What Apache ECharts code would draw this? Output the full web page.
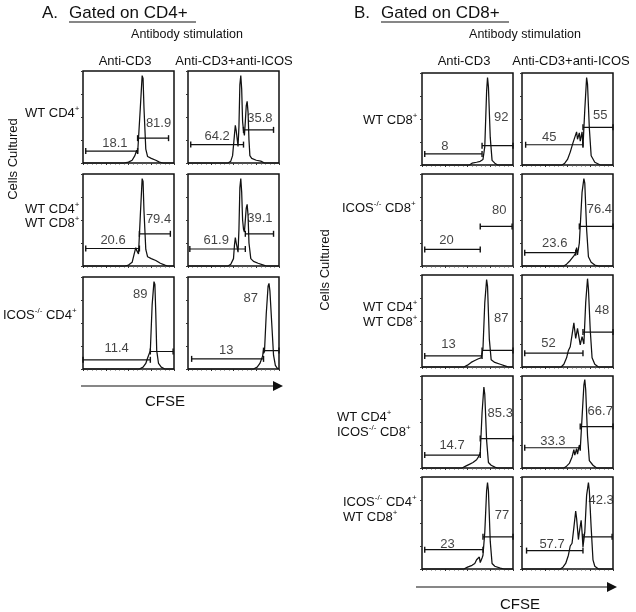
<!DOCTYPE html>
<html>
<head>
<meta charset="utf-8">
<script src="https://cdn.jsdelivr.net/npm/echarts@6/dist/echarts.min.js"></script>
<style>
html, body { margin: 0; padding: 0; background: #fff; }
#main { width: 636px; height: 612px; }
</style>
</head>
<body>
<div id="main"></div>
<script>
// CFSE histograms: x = channel (0-100, left to right), y = % of peak
// gates: [from, to, level]   pct: [text, x, y]

// A. gated on CD4+
var a1_cd3 = [[0,0],[45,0],[50,1],[54,3],[57,8],[59,14],[60,10],[61,12],[63,60],[65,95],[66,92],[67,60],[69,15],[71,7],[75,5],[80,3],[84,1],[88,0],[100,0]];
var a1_cd3_gates = [[3,60,13],[60,94,27]];
var a1_cd3_pct = [['18.1',35,21],['81.9',83,43]];

var a1_icos = [[0,0],[44,0],[47,2],[49,8],[51,30],[52,41],[53,35],[55,18],[56,40],[57,85],[58,95],[59,80],[60,45],[61,35],[62,30],[63,45],[64,62],[65,67],[66,55],[67,25],[68,8],[70,5],[75,3],[80,2],[84,0],[100,0]];
var a1_icos_gates = [[3,61,20],[61,94,36]];
var a1_icos_pct = [['64.2',32,29],['35.8',79,48]];

var a2_cd3 = [[0,0],[46,0],[50,1],[54,4],[56,12],[58,20],[59,17],[61,13],[63,55],[65,95],[66,92],[67,60],[69,18],[71,10],[75,8],[80,6],[85,3],[90,1],[93,0],[100,0]];
var a2_cd3_gates = [[3,62,19],[62,96,35]];
var a2_cd3_pct = [['20.6',33,27.5],['79.4',83,51]];

var a2_icos = [[0,0],[44,0],[47,2],[50,8],[51,22],[52,31],[53,25],[55,15],[56,40],[57,85],[58,95],[59,80],[60,50],[61,40],[62,37],[63,50],[64,63],[65,67],[66,55],[67,25],[69,8],[72,5],[77,3],[83,1],[86,0],[100,0]];
var a2_icos_gates = [[2,63,18.5],[63,94,35]];
var a2_icos_pct = [['61.9',31,27.5],['39.1',79,52]];

var a3_cd3 = [[0,0],[62,0],[66,2],[69,6],[71,12],[72,10],[74,20],[76,70],[78,95],[79,92],[80,60],[81,20],[83,6],[86,2],[90,0],[100,0]];
var a3_cd3_gates = [[0,74,10],[74,99,19]];
var a3_cd3_pct = [['11.4',37,22.5],['89',63,81.5]];

var a3_icos = [[0,0],[72,0],[76,2],[79,6],[82,14],[83,21],[84,18],[86,60],[88,90],[89,93],[90,85],[92,50],[94,15],[96,4],[98,1],[100,0]];
var a3_icos_gates = [[4,83,11],[83,100,20]];
var a3_icos_pct = [['13',42,20],['87',69,77]];

// B. gated on CD8+
var b1_cd3 = [[0,0],[52,0],[55,2],[60,3],[64,4],[67,6],[69,20],[71,80],[72,95],[73,85],[75,30],[77,5],[80,2],[83,0],[100,0]];
var b1_cd3_gates = [[3,66,12],[66,100,21]];
var b1_cd3_pct = [['8',25,20],['92',87,52]];

var b1_icos = [[0,0],[44,0],[47,2],[50,6],[53,14],[56,24],[58,30],[60,36],[61,28],[63,35],[64,26],[66,36],[67,20],[69,60],[71,95],[72,88],[74,40],[76,10],[80,3],[86,0],[100,0]];
var b1_icos_gates = [[4,67,22],[67,100,41]];
var b1_icos_pct = [['45',30,30],['55',86,54]];

var b2_cd3 = [];  // no cells
var b2_cd3_gates = [[3,64,18],[64,99,43]];
var b2_cd3_pct = [['20',27,28],['80',85,60]];

var b2_icos = [[0,0],[46,0],[49,2],[53,6],[57,11],[59,14],[60,20],[61,12],[63,25],[66,80],[68,95],[69,90],[71,40],[73,10],[76,4],[80,1],[84,0],[100,0]];
var b2_icos_gates = [[3,59,14.5],[63,100,43]];
var b2_icos_pct = [['23.6',36,25],['76.4',85,62]];

var b3_cd3 = [[0,0],[46,0],[50,2],[54,5],[58,7],[62,9],[65,10],[67,20],[69,70],[71,95],[72,88],[74,30],[76,8],[80,5],[86,3],[92,1],[95,0],[100,0]];
var b3_cd3_gates = [[3,66,12],[66,100,18]];
var b3_cd3_pct = [['13',29,25],['87',87,53]];

var b3_icos = [[0,0],[43,0],[46,3],[49,10],[51,18],[53,22],[55,35],[57,48],[59,31],[61,42],[63,30],[64,24],[66,33],[68,25],[70,70],[72,96],[73,85],[75,40],[77,10],[80,3],[84,0],[100,0]];
var b3_icos_gates = [[3,67,15],[67,100,38]];
var b3_icos_pct = [['52',29,26],['48',88,61]];

var b4_cd3 = [[0,0],[44,0],[48,2],[52,4],[56,6],[60,9],[62,12],[63,10],[64,16],[66,60],[68,88],[69,80],[71,30],[73,6],[76,3],[80,1],[83,0],[100,0]];
var b4_cd3_gates = [[3,64,14],[64,100,32]];
var b4_cd3_pct = [['14.7',33,24],['85.3',86,59]];

var b4_icos = [[0,0],[46,0],[49,2],[52,5],[55,12],[57,20],[58,14],[60,21],[61,15],[63,25],[64,20],[66,55],[68,90],[69,96],[70,85],[72,35],[74,8],[78,3],[82,0],[100,0]];
var b4_icos_gates = [[3,64,22],[64,100,45]];
var b4_icos_pct = [['33.3',34,29],['66.7',86,62]];

var b5_cd3 = [[0,0],[46,0],[50,2],[55,4],[58,6],[60,10],[62,9],[63,13],[64,7],[66,12],[67,15],[69,40],[71,85],[72,94],[73,85],[75,30],[77,6],[80,3],[86,1],[90,0],[100,0]];
var b5_cd3_gates = [[3,67,21],[67,100,35]];
var b5_cd3_pct = [['23',28,27],['77',88,58]];

var b5_icos = [[0,0],[42,0],[45,2],[48,6],[51,15],[53,25],[55,28],[57,45],[59,63],[60,55],[62,32],[63,40],[65,53],[66,40],[67,24],[69,40],[71,80],[73,94],[74,85],[76,45],[78,10],[80,3],[84,0],[100,0]];
var b5_icos_gates = [[5,67,20],[67,99,35]];
var b5_icos_pct = [['57.7',33,27],['42.3',87,74]];

var FONT = '"Liberation Sans", Arial, Helvetica, sans-serif';
var INK = '#111';

// layout of the boxes
var colA = [83, 188], rowA = [71, 174, 277];
var colB = [422, 522], rowB = [73, 174, 275, 376, 477];
var boxW = 91, boxH = 92;

var panels = [
    [colA[0], rowA[0], a1_cd3, a1_cd3_gates, a1_cd3_pct],
    [colA[1], rowA[0], a1_icos, a1_icos_gates, a1_icos_pct],
    [colA[0], rowA[1], a2_cd3, a2_cd3_gates, a2_cd3_pct],
    [colA[1], rowA[1], a2_icos, a2_icos_gates, a2_icos_pct],
    [colA[0], rowA[2], a3_cd3, a3_cd3_gates, a3_cd3_pct],
    [colA[1], rowA[2], a3_icos, a3_icos_gates, a3_icos_pct],
    [colB[0], rowB[0], b1_cd3, b1_cd3_gates, b1_cd3_pct],
    [colB[1], rowB[0], b1_icos, b1_icos_gates, b1_icos_pct],
    [colB[0], rowB[1], b2_cd3, b2_cd3_gates, b2_cd3_pct],
    [colB[1], rowB[1], b2_icos, b2_icos_gates, b2_icos_pct],
    [colB[0], rowB[2], b3_cd3, b3_cd3_gates, b3_cd3_pct],
    [colB[1], rowB[2], b3_icos, b3_icos_gates, b3_icos_pct],
    [colB[0], rowB[3], b4_cd3, b4_cd3_gates, b4_cd3_pct],
    [colB[1], rowB[3], b4_icos, b4_icos_gates, b4_icos_pct],
    [colB[0], rowB[4], b5_cd3, b5_cd3_gates, b5_cd3_pct],
    [colB[1], rowB[4], b5_icos, b5_icos_gates, b5_icos_pct]
];

var grids = [], xAxes = [], yAxes = [], series = [];

for (let i = 0; i < panels.length; i++) {
    let p = panels[i];
    grids.push({
        left: p[0], top: p[1], width: boxW, height: boxH,
        show: true, borderColor: INK, borderWidth: 1.5, backgroundColor: 'transparent'
    });
    xAxes.push({
        gridIndex: i, type: 'value', min: 0, max: 100, interval: 25,
        axisLine: { show: false },
        axisTick: { show: true, length: 2, lineStyle: { color: '#333', width: 1 } },
        minorTick: { show: true, splitNumber: 5, length: 1.5, lineStyle: { color: '#555', width: 1 } },
        axisLabel: { show: false }, splitLine: { show: false }
    });
    yAxes.push({
        gridIndex: i, type: 'value', min: 0, max: 100, interval: 25,
        axisLine: { show: false },
        axisTick: { show: true, length: 2, lineStyle: { color: '#333', width: 1 } },
        axisLabel: { show: false }, splitLine: { show: false }
    });
    // histogram
    series.push({
        type: 'line', xAxisIndex: i, yAxisIndex: i, data: p[2],
        showSymbol: false, smooth: false, silent: true,
        lineStyle: { color: INK, width: 1.25 }
    });
    // gate markers
    p[3].forEach(function (g) {
        series.push({
            type: 'line', xAxisIndex: i, yAxisIndex: i,
            data: [[g[0], g[2]], [g[1], g[2]]],
            symbol: 'rect', symbolSize: [1.4, 6], showSymbol: true, silent: true, clip: false,
            itemStyle: { color: INK },
            lineStyle: { color: INK, width: 1.2 }
        });
    });
    // percentages
    series.push({
        type: 'scatter', xAxisIndex: i, yAxisIndex: i, clip: false, silent: true,
        data: p[4].map(function (t) { return [t[1], t[2], t[0]]; }),
        symbolSize: 1, itemStyle: { color: 'rgba(0,0,0,0)' },
        label: {
            show: true, position: 'inside', color: INK, fontSize: 13, fontFamily: FONT,
            formatter: function (q) { return q.value[2]; }
        }
    });
}

// text helpers
function txt(x, y, s, size, align, extra) {
    let el = {
        type: 'text', x: x, y: y, silent: true,
        style: {
            text: s, fill: INK, fontSize: size, fontFamily: FONT,
            align: align, textAlign: align, verticalAlign: 'middle', textVerticalAlign: 'middle',
            rich: {
                s: { fontSize: 8, fontFamily: FONT, fill: INK, padding: [0, 0, 9, 0] }
            }
        }
    };
    if (extra) Object.assign(el, extra);
    return el;
}
function hline(x1, x2, y) {
    return { type: 'line', silent: true, shape: { x1: x1, y1: y, x2: x2, y2: y }, style: { stroke: INK, lineWidth: 1.2 } };
}
function arrowHead(x, y) {
    return { type: 'polygon', silent: true, shape: { points: [[x - 10, y - 5], [x, y], [x - 10, y + 5]] }, style: { fill: INK } };
}

var graphics = [
    // panel A headers
    txt(42, 13, 'A.', 17, 'left'),
    txt(69, 13, 'Gated on CD4+', 17, 'left'),
    hline(69, 196, 22),
    txt(187, 35, 'Antibody stimulation', 12.5, 'center'),
    txt(125, 61, 'Anti-CD3', 13, 'center'),
    txt(234, 61, 'Anti-CD3+anti-ICOS', 13, 'center'),
    txt(13, 159, 'Cells Cultured', 13, 'center', { rotation: Math.PI / 2 }),
    txt(25, 113, 'WT CD4{s|+}', 13, 'left'),
    txt(25, 209, 'WT CD4{s|+}', 13, 'left'),
    txt(25, 223, 'WT CD8{s|+}', 13, 'left'),
    txt(3, 315, 'ICOS{s|-/-} CD4{s|+}', 13, 'left'),
    hline(81, 274, 386),
    arrowHead(283, 386),
    txt(165, 402, 'CFSE', 15, 'center'),
    // panel B headers
    txt(354, 13, 'B.', 17, 'left'),
    txt(381, 13, 'Gated on CD8+', 17, 'left'),
    hline(381, 509, 22),
    txt(525, 35, 'Antibody stimulation', 12.5, 'center'),
    txt(464, 61, 'Anti-CD3', 13, 'center'),
    txt(571, 61, 'Anti-CD3+anti-ICOS', 13, 'center'),
    txt(325, 270, 'Cells Cultured', 13, 'center', { rotation: Math.PI / 2 }),
    txt(363, 120, 'WT CD8{s|+}', 13, 'left'),
    txt(342, 208, 'ICOS{s|-/-} CD8{s|+}', 13, 'left'),
    txt(363, 307, 'WT CD4{s|+}', 13, 'left'),
    txt(363, 322, 'WT CD8{s|+}', 13, 'left'),
    txt(337, 417, 'WT CD4{s|+}', 13, 'left'),
    txt(337, 432, 'ICOS{s|-/-} CD8{s|+}', 13, 'left'),
    txt(343, 502, 'ICOS{s|-/-} CD4{s|+}', 13, 'left'),
    txt(343, 517, 'WT CD8{s|+}', 13, 'left'),
    hline(416, 608, 587),
    arrowHead(617, 587),
    txt(520, 605, 'CFSE', 15, 'center')
];

var myChart = echarts.init(document.getElementById('main'), null, { renderer: 'canvas' });
myChart.setOption({
    backgroundColor: '#fff',
    animation: false,
    grid: grids,
    xAxis: xAxes,
    yAxis: yAxes,
    series: series,
    graphic: { elements: graphics }
});
</script>
</body>
</html>
